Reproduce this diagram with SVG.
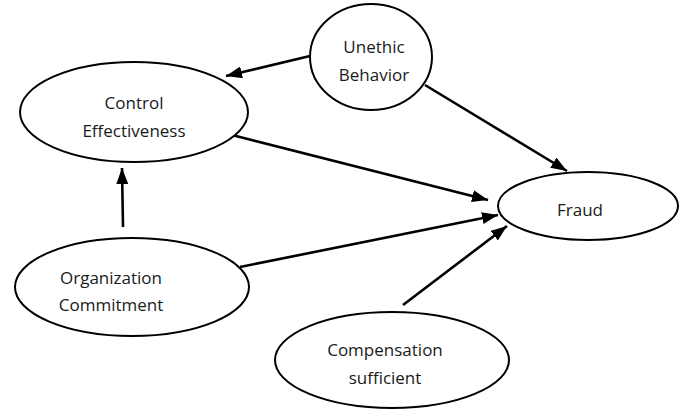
<svg xmlns="http://www.w3.org/2000/svg" width="679" height="410" viewBox="0 0 679 410">
<style>
.node ellipse{fill:#fff;stroke:#000;stroke-width:2}
.node text{font-family:"Open Sans","Liberation Sans",sans-serif;font-size:17px;fill:#1a1a1a;text-anchor:middle}
.conn line{stroke:#000;stroke-width:2.6;fill:none}
</style>
<defs>
<marker id="ah" viewBox="0 0 16 12" refX="16" refY="6" markerWidth="16" markerHeight="12" markerUnits="userSpaceOnUse" orient="auto">
<path d="M0,0 L16,6 L0,12 Z" fill="#000"/>
</marker>
</defs>
<rect width="679" height="410" fill="#fff"/>
<g class="conn">
<line x1="310" y1="56" x2="226" y2="76" marker-end="url(#ah)"/>
<line x1="425" y1="85" x2="567" y2="171" marker-end="url(#ah)"/>
<line x1="232" y1="135" x2="488" y2="200" marker-end="url(#ah)"/>
<line x1="240" y1="267" x2="498" y2="215" marker-end="url(#ah)"/>
<line x1="403" y1="305" x2="507" y2="226" marker-end="url(#ah)"/>
<line x1="123" y1="227" x2="122" y2="168" marker-end="url(#ah)"/>
</g>
<g id="unethic" class="node">
<ellipse cx="371" cy="57" rx="61" ry="53"/>
<text x="374" y="53">Unethic</text>
<text x="374" y="81">Behavior</text>
</g>
<g id="control" class="node">
<ellipse cx="134" cy="112" rx="114" ry="50"/>
<text x="134" y="109">Control</text>
<text x="134" y="137">Effectiveness</text>
</g>
<g id="fraud" class="node">
<ellipse cx="588" cy="206" rx="90" ry="34"/>
<text x="580" y="216">Fraud</text>
</g>
<g id="organization" class="node">
<ellipse cx="132" cy="287" rx="117" ry="49"/>
<text x="111" y="284">Organization</text>
<text x="111" y="311">Commitment</text>
</g>
<g id="compensation" class="node">
<ellipse cx="392" cy="360" rx="117" ry="48"/>
<text x="385" y="356">Compensation</text>
<text x="385" y="384">sufficient</text>
</g>
</svg>
